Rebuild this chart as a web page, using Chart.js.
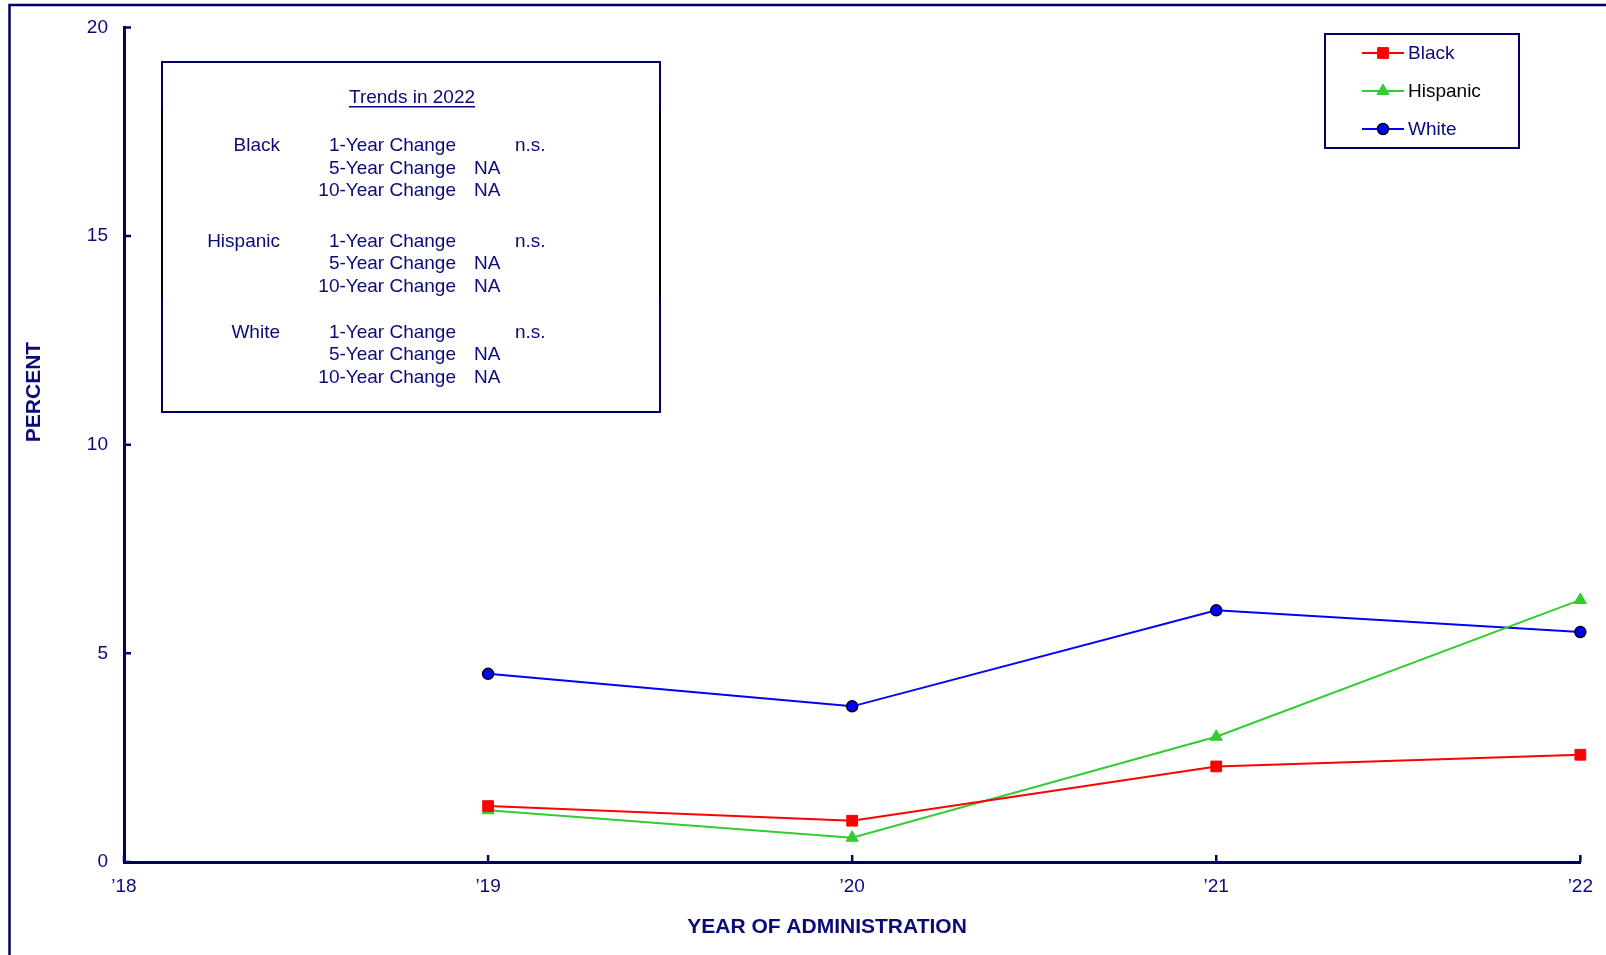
<!DOCTYPE html>
<html>
<head>
<meta charset="utf-8">
<title>Percent by year of administration</title>
<script src="https://cdn.jsdelivr.net/npm/chart.js@4.4.1/dist/chart.umd.min.js"></script>
<style>
  html, body { margin: 0; padding: 0; background: #fff; }
  #wrap { position: relative; width: 1606px; height: 955px; }
</style>
</head>
<body>
<div id="wrap"><canvas id="grafico"></canvas></div>
<script>
// datos
const years = ['\u201918', '\u201919', '\u201920', '\u201921', '\u201922'];
const blackValues = [null, 1.34, 0.99, 2.29, 2.57];
const hispanicValues = [null, 1.24, 0.58, 3.0, 6.28];
const whiteValues = [null, 4.51, 3.73, 6.03, 5.51];
const yTicks = [0, 5, 10, 15, 20];

// cuadro de tendencias
const trendTitle = 'Trends in 2022';
const trendGroups = ['Black', 'Hispanic', 'White'];
const changeLabels = ['1-Year Change', '5-Year Change', '10-Year Change'];
const trendValues = [
    ['n.s.', 'NA', 'NA'],
    ['n.s.', 'NA', 'NA'],
    ['n.s.', 'NA', 'NA']
];

const navy = '#0a0a78';
const frameColor = '#000066';
Chart.defaults.font.family = '"Liberation Sans", Arial, sans-serif';

const extras = {
    id: 'extras',
    beforeDraw(chart) {
        const ctx = chart.ctx;
        ctx.save();
        // marco exterior
        ctx.strokeStyle = frameColor;
        ctx.lineWidth = 2.5;
        ctx.beginPath();
        ctx.moveTo(9.5, chart.height);
        ctx.lineTo(9.5, 5);
        ctx.lineTo(chart.width, 5);
        ctx.stroke();
        ctx.restore();
    },
    afterDraw(chart) {
        const ctx = chart.ctx;
        const area = chart.chartArea;
        const xs = chart.scales.x, ys = chart.scales.y;
        ctx.save();

        // marcas hacia dentro
        ctx.strokeStyle = frameColor;
        ctx.lineWidth = 2.5;
        ctx.beginPath();
        yTicks.forEach(v => {
            const py = ys.getPixelForValue(v);
            ctx.moveTo(area.left, py);
            ctx.lineTo(area.left + 7, py);
        });
        years.forEach((y, i) => {
            const px = xs.getPixelForValue(i);
            ctx.moveTo(px, area.bottom);
            ctx.lineTo(px, area.bottom - 7);
        });
        ctx.stroke();

        // titulos de ejes
        ctx.fillStyle = navy;
        ctx.font = 'bold 21px "Liberation Sans", Arial, sans-serif';
        ctx.textAlign = 'center';
        ctx.textBaseline = 'middle';
        ctx.fillText('YEAR OF ADMINISTRATION', 827, 927);
        ctx.save();
        ctx.translate(34, 392);
        ctx.rotate(-Math.PI / 2);
        ctx.fillText('PERCENT', 0, 0);
        ctx.restore();

        // leyenda
        ctx.strokeStyle = frameColor;
        ctx.lineWidth = 2;
        ctx.strokeRect(1325, 34, 194, 114);
        const legendText = [navy, '#000000', navy];
        ctx.font = '19px "Liberation Sans", Arial, sans-serif';
        ctx.textAlign = 'left';
        chart.data.datasets.forEach((ds, i) => {
            const cy = 53 + i * 38;
            ctx.strokeStyle = ds.borderColor;
            ctx.lineWidth = 2;
            ctx.beginPath();
            ctx.moveTo(1362, cy);
            ctx.lineTo(1404, cy);
            ctx.stroke();
            ctx.fillStyle = ds.pointBackgroundColor;
            ctx.strokeStyle = ds.pointBorderColor;
            ctx.lineWidth = ds.pointBorderWidth;
            Chart.helpers.drawPoint(ctx, {
                pointStyle: ds.pointStyle, radius: ds.pointRadius,
                borderWidth: ds.pointBorderWidth, rotation: 0
            }, 1383, cy);
            ctx.fillStyle = legendText[i];
            ctx.fillText(ds.label, 1408, cy + 1);
        });

        // cuadro de tendencias
        ctx.strokeStyle = frameColor;
        ctx.lineWidth = 2;
        ctx.strokeRect(162, 62, 498, 350);
        ctx.strokeStyle = '#000000';
        ctx.beginPath();
        ctx.moveTo(162, 110); ctx.lineTo(162, 298);
        ctx.moveTo(660, 110); ctx.lineTo(660, 298);
        ctx.stroke();

        ctx.fillStyle = navy;
        ctx.textBaseline = 'alphabetic';
        ctx.textAlign = 'center';
        ctx.fillText(trendTitle, 412, 103);
        const tw = ctx.measureText(trendTitle).width;
        ctx.fillRect(412 - tw / 2, 106, tw, 1.5);

        const groupTop = [151, 246.5, 337.5];
        trendGroups.forEach((g, gi) => {
            changeLabels.forEach((c, ri) => {
                const by = groupTop[gi] + ri * 22.5;
                if (ri === 0) {
                    ctx.textAlign = 'right';
                    ctx.fillText(g, 280, by);
                }
                ctx.textAlign = 'right';
                ctx.fillText(c, 456, by);
                ctx.textAlign = 'left';
                const v = trendValues[gi][ri];
                ctx.fillText(v, v === 'NA' ? 474 : 515, by);
            });
        });

        ctx.restore();
    }
};

const ctx1 = document.getElementById('grafico').getContext('2d');
const grafico = new Chart(ctx1, {
    type: 'line',
    data: {
        labels: years,
        datasets: [{
            label: 'Black',
            data: blackValues,
            borderColor: '#ff0000',
            backgroundColor: '#ff0000',
            pointBackgroundColor: '#ff0000',
            pointBorderColor: '#ff0000',
            pointBorderWidth: 1,
            pointStyle: 'rect',
            pointRadius: 7.6,
            borderWidth: 2
        }, {
            label: 'Hispanic',
            data: hispanicValues,
            borderColor: '#33cc33',
            backgroundColor: '#33cc33',
            pointBackgroundColor: '#33cc33',
            pointBorderColor: '#33cc33',
            pointBorderWidth: 1,
            pointStyle: 'triangle',
            pointRadius: 7,
            borderWidth: 2
        }, {
            label: 'White',
            data: whiteValues,
            borderColor: '#0000ff',
            backgroundColor: '#0000ff',
            pointBackgroundColor: '#0000ff',
            pointBorderColor: '#000000',
            pointBorderWidth: 1.5,
            pointStyle: 'circle',
            pointRadius: 5.5,
            borderWidth: 2
        }]
    },
    options: {
        animation: false,
        responsive: true,
        maintainAspectRatio: false,
        clip: false,
        layout: { padding: { top: 23, right: 24, left: 0, bottom: 0 } },
        plugins: {
            legend: { display: false },
            tooltip: { enabled: false }
        },
        scales: {
            x: {
                offset: false,
                grid: { display: true, drawOnChartArea: false, drawTicks: false },
                border: { display: true, color: frameColor, width: 3 },
                ticks: { color: navy, font: { size: 19 }, padding: 13, maxRotation: 0, autoSkip: false },
                afterFit(scale) { scale.height = 93; }
            },
            y: {
                min: 0,
                max: 20,
                afterBuildTicks(scale) { scale.ticks = yTicks.map(v => ({ value: v })); },
                grid: { display: true, drawOnChartArea: false, drawTicks: false },
                border: { display: true, color: frameColor, width: 3 },
                ticks: { color: navy, font: { size: 19 }, padding: 16 },
                afterFit(scale) { scale.width = 124; }
            }
        }
    },
    plugins: [extras]
});
</script>
</body>
</html>
